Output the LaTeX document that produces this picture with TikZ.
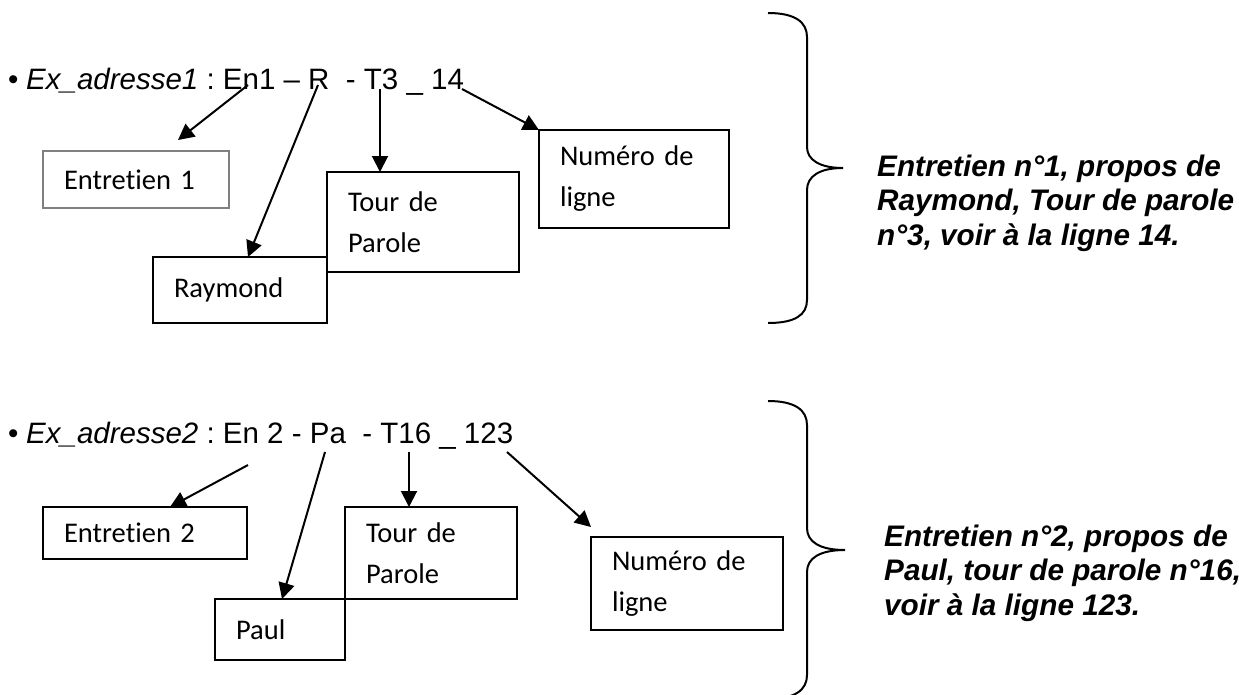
\documentclass[tikz,border=0pt]{standalone}
\usepackage{fontspec}
\setmainfont{Liberation Sans}
\newfontfamily\boxfont[Ligatures={NoCommon}]{Carlito}
\usetikzlibrary{arrows.meta,calc}
\begin{document}
\frenchspacing
\begin{tikzpicture}[x=1pt,y=-1pt,
  lbl/.style={draw, line width=2pt, rectangle, inner xsep=21pt, inner ysep=0pt, outer sep=0pt,
    align=left, anchor=north west, font=\boxfont\fontsize{28.5}{41}\selectfont},
  lblgray/.style={lbl, draw=black!50, line width=1.3pt},
  arr/.style={-{Triangle[length=16pt,width=16pt]}, line width=2pt},
  bracestyle/.style={line width=2pt},
  addr/.style={anchor=base west, inner sep=0pt, font=\fontsize{29.5}{34.5}\selectfont},
  concl/.style={anchor=north west, inner sep=0pt, align=left, font=\bfseries\itshape\fontsize{29.7}{34.5}\selectfont}]
\useasboundingbox (0,0) rectangle (1239,694);

% ---------- first example ----------
\node[addr] (l1) at (8,89) {\makebox[18pt][l]{•}\textit{Ex\_adresse1} : En1 – R\ \ - T3 \_ 14};

\node[lblgray, text width=144pt, minimum height=57pt] (e1) at (43,151) {Entretien 1};
\node[lbl, text width=132pt, minimum height=66pt] (ray) at (153,257) {Raymond};
\node[lbl, text width=150pt, minimum height=100pt] (t1) at (327,172) {Tour de\\Parole};
\node[lbl, text width=148pt, minimum height=98pt] (n1) at (539,130) {Numéro de\\ligne};

\coordinate (s1) at (248,85);
\coordinate (s2) at (318,85);
\coordinate (s3) at (380,89);
\coordinate (s4) at (462,89);
\draw[arr] (s1) -- ($(e1.north west)+(135,-11)$);
\draw[arr] (s2) -- ($(ray.north west)+(95,0)$);
\draw[arr] (s3) -- (s3 |- t1.north);
\draw[arr] (s4) -- (n1.north west);

\draw[bracestyle] (768,13) .. controls (795,13) and (807,22) .. (807,37) -- (807,147)
  .. controls (807,160) and (820,168) .. (843,168)
  .. controls (820,168) and (807,176) .. (807,190) -- (807,300)
  .. controls (807,315) and (795,323) .. (768,323);

\node[concl] (c1) at (877,154.5) {Entretien n°1, propos de\\Raymond, Tour de parole\\n°3, voir à la ligne 14.};

% ---------- second example ----------
\node[addr] (l2) at (8,443) {\makebox[18pt][l]{•}\textit{Ex\_adresse2} : En 2 - Pa\ \ - T16 \_ 123};

\node[lbl, text width=162pt, minimum height=52pt] (e2) at (43,507) {Entretien 2};
\node[lbl, text width=88pt, minimum height=61pt] (paul) at (215,599) {Paul};
\node[lbl, text width=130pt, minimum height=92pt] (t2) at (345,507) {Tour de\\Parole};
\node[lbl, text width=150pt, minimum height=93pt] (n2) at (591,537) {Numéro de\\ligne};

\coordinate (u1) at (248,465);
\coordinate (u2) at (325,452);
\coordinate (u3) at (409,452);
\coordinate (u4) at (507,452);
\draw[arr] (u1) -- ($(e2.north west)+(127,0)$);
\draw[arr] (u2) -- ($(paul.north west)+(67,0)$);
\draw[arr] (u3) -- (u3 |- t2.north);
\draw[arr] (u4) -- ($(n2.north west)+(0,-10)$);

\draw[bracestyle] (768,401) .. controls (795,401) and (807,410) .. (807,425) -- (807,528)
  .. controls (807,542) and (820,550) .. (845,550)
  .. controls (820,550) and (807,558) .. (807,572) -- (807,675)
  .. controls (807,690) and (795,699) .. (768,699);

\node[concl] (c2) at (884,524.5) {Entretien n°2, propos de\\Paul, tour de parole n°16,\\voir à la ligne 123.};
\end{tikzpicture}
\end{document}
